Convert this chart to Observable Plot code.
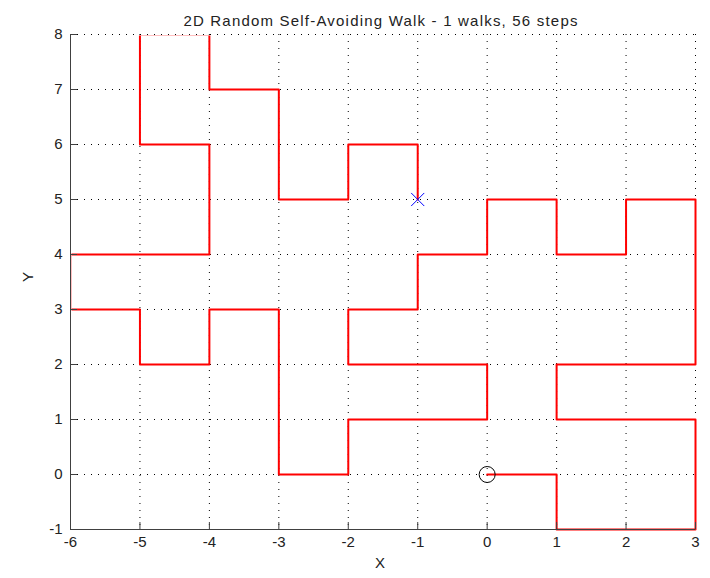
<!DOCTYPE html>
<html><head><meta charset="utf-8">
<script src="https://cdn.jsdelivr.net/npm/d3@7"></script>
<script src="https://cdn.jsdelivr.net/npm/@observablehq/plot@0.6"></script>
<style>body{margin:0;background:#fff}</style>
</head><body><div id="chart"></div>
<script>
const titleText = "2D Random Self-Avoiding Walk - 1 walks, 56 steps";
const xTicks = [-6,-5,-4,-3,-2,-1,0,1,2,3];
const yTicks = [-1,0,1,2,3,4,5,6,7,8];
const walkX = [0,1,1,2,3,3,3,2,1,1,2,3,3,3,3,2,2,1,1,0,0,-1,-1,-2,-2,-1,0,0,-1,-2,-2,-3,-3,-3,-3,-4,-4,-5,-5,-6,-6,-5,-4,-4,-4,-5,-5,-5,-4,-4,-3,-3,-3,-2,-2,-1,-1];
const walkY = [0,0,-1,-1,-1,0,1,1,1,2,2,2,3,4,5,5,4,4,5,5,4,4,3,3,2,2,2,1,1,1,0,0,1,2,3,3,2,2,3,3,4,4,4,5,6,6,7,8,8,7,7,6,5,5,6,6,5];

const points = walkX.map((x, i) => ({x, y: walkY[i]}));
const start = [points[0]];
const end = [points[points.length - 1]];
const xMin = xTicks[0], yMin = yTicks[0];

const dotted = {stroke: "#000", strokeOpacity: 1, strokeWidth: 1, strokeDasharray: "1,6"};
const axisColor = "#404040";
const font = "'Liberation Sans', Arial, Helvetica, sans-serif";

const chart = Plot.plot({
  width: 710, height: 578,
  marginLeft: 70, marginRight: 15, marginTop: 34, marginBottom: 49,
  x: {domain: [xTicks[0], xTicks[xTicks.length - 1]]},
  y: {domain: [yTicks[0], yTicks[yTicks.length - 1]]},
  style: {fontFamily: font, fontSize: "15px", color: "#222", background: "#fff"},
  marks: [
    Plot.gridX(xTicks, dotted),
    Plot.gridY(yTicks, dotted),
    Plot.line(points, {x: "x", y: "y", stroke: "#ff0000", strokeWidth: 2, clip: true}),
    Plot.ruleY([yMin], {stroke: axisColor, strokeWidth: 1}),
    Plot.ruleX([xMin], {stroke: axisColor, strokeWidth: 1}),
    Plot.ruleX(xTicks, {x: d => d, y1: () => yMin, y2: () => yMin, insetBottom: 7, stroke: axisColor}),
    Plot.ruleY(yTicks, {y: d => d, x1: () => xMin, x2: () => xMin, insetLeft: 7, stroke: axisColor}),
    Plot.axisX(xTicks, {tickSize: 0, tickPadding: 7, label: null, fontSize: 15, tickFormat: d => String(d)}),
    Plot.axisY(yTicks, {tickSize: 0, tickPadding: 8, label: null, fontSize: 15, tickFormat: d => String(d)}),
    Plot.dot(start, {x: "x", y: "y", r: 8, stroke: "#000", fill: "none", strokeWidth: 1}),
    Plot.dot(end, {x: "x", y: "y", r: 6, symbol: "times", stroke: "#0000ff", strokeWidth: 1}),
    Plot.text([titleText], {frameAnchor: "top", dy: -19, dx: -2, fontSize: 15, fill: "#222"}),
    Plot.text(["X"], {frameAnchor: "bottom", dy: 38, dx: -3, fontSize: 15, fill: "#222"}),
    Plot.text(["Y"], {frameAnchor: "left", dx: -42, rotate: -90, fontSize: 15, fill: "#222"})
  ]
});

// title letter spacing to match the wide reference font
d3.select(chart).selectAll("text").filter(function() { return this.textContent === titleText; })
  .attr("letter-spacing", "1.2px");

// clip region: hide the walk segments lying on the left and top borders, keep right and bottom ones
const sx = chart.scale("x"), sy = chart.scale("y");
const clipLeft = sx.apply(xTicks[0]) + 1.5, clipRight = sx.apply(xTicks[xTicks.length - 1]) + 2;
const clipTop = sy.apply(yTicks[yTicks.length - 1]) + 1.5, clipBottom = sy.apply(yTicks[0]) + 2;
d3.select(chart).selectAll("clipPath rect")
  .attr("x", clipLeft).attr("y", clipTop)
  .attr("width", clipRight - clipLeft).attr("height", clipBottom - clipTop);

document.getElementById("chart").appendChild(chart);
</script>
</body></html>
